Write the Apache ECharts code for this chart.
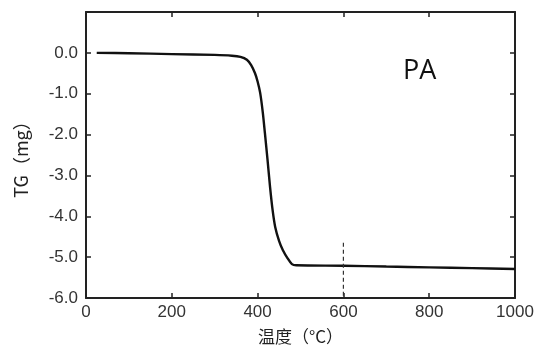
<!DOCTYPE html>
<html>
<head>
<meta charset="utf-8">
<script src="https://cdn.jsdelivr.net/npm/echarts@6/dist/echarts.min.js"></script>
<style>html,body{margin:0;padding:0;background:#fff;}#c{width:537px;height:347px;}</style>
</head>
<body>
<div id="c"></div>
<script>
var temps = [25,100,200,300,340,360,375,385,394,400,406,412,417,423,429,435,441,450,459,470,480,490,600,700,800,900,1000];
var tg = [0.0,-0.01,-0.03,-0.05,-0.07,-0.1,-0.17,-0.3,-0.5,-0.7,-0.98,-1.45,-1.96,-2.6,-3.28,-3.85,-4.26,-4.6,-4.83,-5.03,-5.17,-5.2,-5.21,-5.23,-5.25,-5.27,-5.29];
var markerX = [600,600];
var markerY = [-4.65,-6.0];
var sampleName = 'PA';
var xTitle = '温度（°C）';
var yTitle = 'TG（mg）';

var chart = echarts.init(document.getElementById('c'), null, {renderer:'canvas'});
var font = 'Liberation Sans, Arial, sans-serif';
var cjk = '"Noto Sans CJK SC", sans-serif';
var axisLine = {show:true, onZero:false, lineStyle:{color:'#222', width:2}};
var tick = {show:true, inside:true, length:5, lineStyle:{color:'#222', width:1.5}};
chart.setOption({
  animation:false,
  backgroundColor:'#fff',
  grid:{left:86, right:22, top:12, bottom:49, containLabel:false, outerBoundsMode:'none'},
  xAxis:[{
    type:'value', min:0, max:1000, interval:200,
    axisLine:axisLine, axisTick:tick,
    axisLabel:{color:'#333', fontSize:17, fontFamily:font, margin:6,
      formatter:function(v){return String(v);}},
    splitLine:{show:false},
    name:xTitle, nameLocation:'middle', nameGap:30,
    nameTextStyle:{color:'#222', fontSize:17, fontFamily:cjk}
  },{
    type:'value', min:0, max:1000, interval:200, position:'top',
    axisLine:axisLine, axisTick:tick,
    axisLabel:{show:false}, splitLine:{show:false}
  }],
  yAxis:[{
    type:'value', min:-6, max:1, interval:1,
    axisLine:axisLine, axisTick:tick,
    axisLabel:{color:'#333', fontSize:17, fontFamily:font, margin:8,
      formatter:function(v){ return v > 0.5 ? '' : v.toFixed(1); }},
    splitLine:{show:false},
    name:yTitle, nameLocation:'middle', nameGap:56, nameRotate:90,
    nameTextStyle:{color:'#222', fontSize:18, fontFamily:cjk}
  },{
    type:'value', min:-6, max:1, interval:1, position:'right',
    axisLine:axisLine, axisTick:tick,
    axisLabel:{show:false}, splitLine:{show:false}
  }],
  series:[{
    type:'line', xAxisIndex:0, yAxisIndex:0,
    data: temps.map(function(t,i){return [t,tg[i]];}),
    showSymbol:false, smooth:0.3,
    lineStyle:{color:'#111', width:2.4}
  },{
    type:'line', xAxisIndex:0, yAxisIndex:0,
    data: markerX.map(function(t,i){return [t,markerY[i]];}),
    showSymbol:false,
    lineStyle:{color:'#333', width:1.2, type:[4,3]}
  }],
  graphic:[{
    type:'text', left:403, top:58,
    style:{text:sampleName, fill:'#111', font:'27px "Open Sans", sans-serif'}
  }]
});
</script>
</body>
</html>
